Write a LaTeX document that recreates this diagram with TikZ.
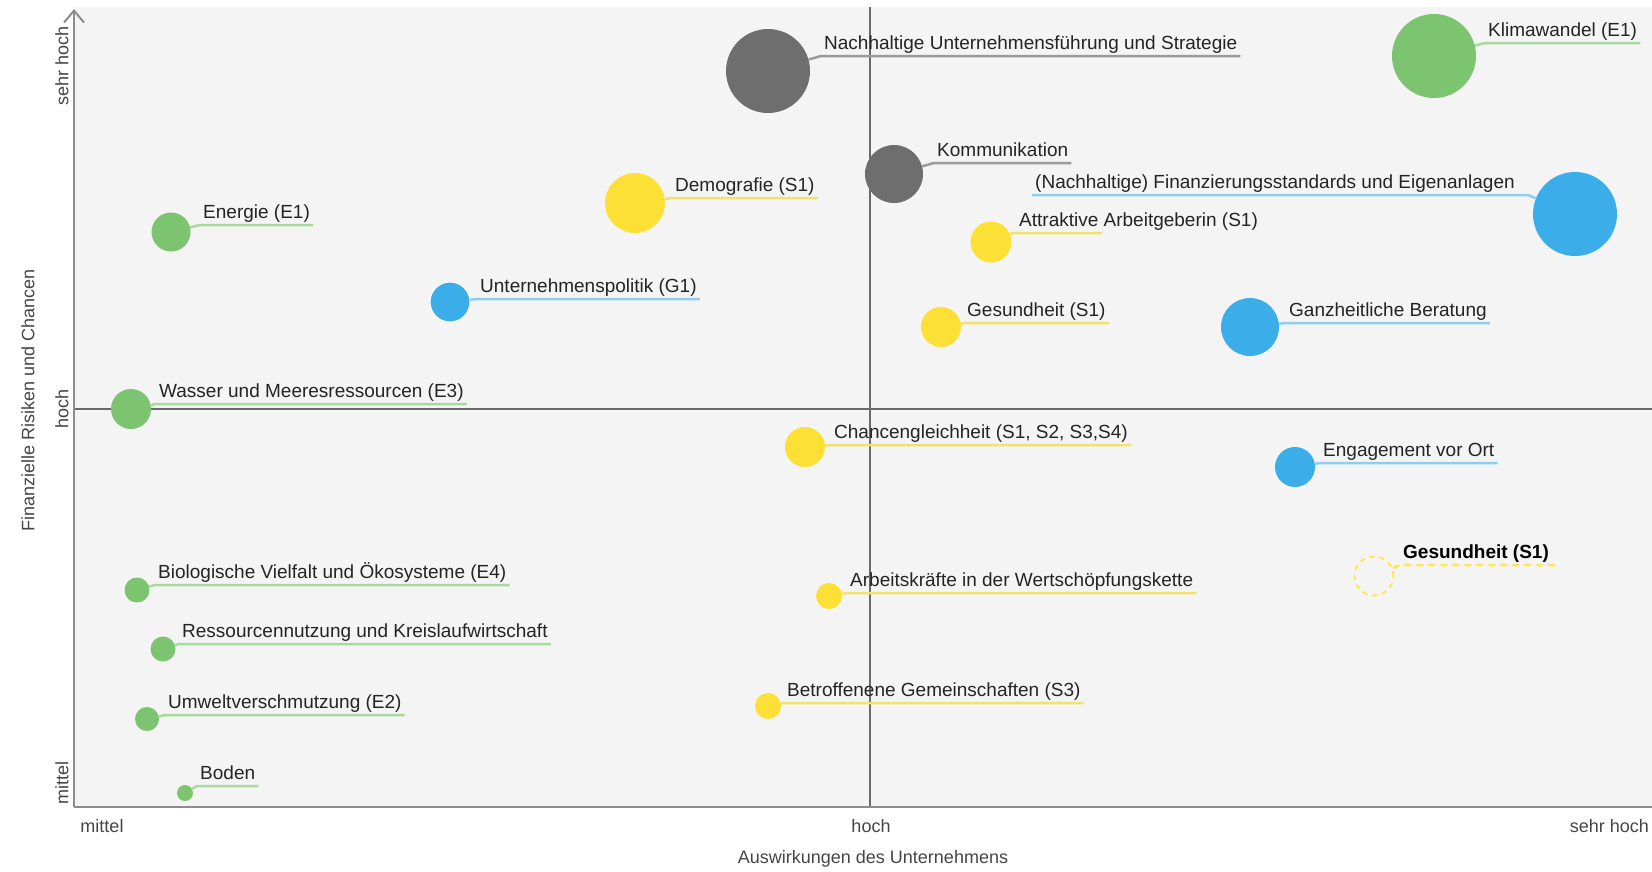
\documentclass[tikz,border=0pt]{standalone}
\usepackage{fontspec}
\setmainfont{Liberation Sans}
\usetikzlibrary{arrows.meta}
\definecolor{bggray}{HTML}{F4F4F4}
\definecolor{axisgray}{HTML}{8C8C8C}
\definecolor{midgray}{HTML}{6A6A6A}
\definecolor{txtgray}{HTML}{242424}
\definecolor{lblgray}{HTML}{454545}
\definecolor{egreen}{HTML}{7DC470}
\definecolor{sgelb}{HTML}{FDE035}
\definecolor{gblau}{HTML}{3BAEE9}
\definecolor{dgrau}{HTML}{6E6E6E}
\definecolor{egreenL}{HTML}{A9D99F}
\definecolor{sgelbL}{HTML}{F3E26A}
\definecolor{gblauL}{HTML}{8ECDF0}
\definecolor{dgrauL}{HTML}{9A9A9A}

\begin{document}
\begin{tikzpicture}[x=1pt, y=-1pt,
    bubble/.style={circle, inner sep=0pt, minimum size=#1},
    lab/.style={anchor=south west, inner xsep=3pt, inner ysep=0pt, text depth=6pt, text=txtgray, font=\fontsize{19}{22}\selectfont},
    axlab/.style={text=lblgray, inner sep=0pt, font=\fontsize{18}{21}\selectfont},
    gline/.style={draw=egreenL, line width=2.5pt},
    yline/.style={draw=sgelbL, line width=2.5pt},
    bline/.style={draw=gblauL, line width=2.5pt},
    dline/.style={draw=dgrauL, line width=2.5pt},
    ydash/.style={draw=sgelb!85!white, line width=2.5pt, dash pattern=on 7pt off 5pt}]
    \useasboundingbox (0,0) rectangle (1652,871);
    \fill[bggray] (74,7) rectangle (1652,807);
    \draw[midgray, line width=1.5pt] (870,7) -- (870,807);
    \draw[midgray, line width=1.8pt] (74,409) -- (1652,409);
    \draw[axisgray, line width=2pt, -{Straight Barb[length=12pt,width=20pt]}] (74,807) -- (74,9);
    \draw[axisgray, line width=2pt] (74,807) -- (1652,807);

    \node[axlab, rotate=90] (ysh) at (62,66) {sehr hoch};
    \node[axlab, rotate=90] (yh) at (62,409) {hoch};
    \node[axlab, rotate=90] (ym) at (62,783) {mittel};
    \node[axlab, rotate=90] (ytitle) at (28,400) {Finanzielle Risiken und Chancen};
    \node[axlab] (xm) at (102,826) {mittel};
    \node[axlab] (xh) at (871,826) {hoch};
    \node[axlab, anchor=east] (xsh) at (1649,826) {sehr hoch};
    \node[axlab] (xtitle) at (873,859) {Auswirkungen des Unternehmens};

    \node[bubble=84pt, fill=dgrau] (nus) at (768,71) {};
    \node[lab] (nusL) at (821,56) {Nachhaltige Unternehmensführung und Strategie};
    \draw[dline] (nus) -- (nusL.south west) -- (nusL.south east);

    \node[bubble=84pt, fill=egreen] (klima) at (1434,56) {};
    \node[lab] (klimaL) at (1485,43) {Klimawandel (E1)};
    \draw[gline] (klima) -- (klimaL.south west) -- (klimaL.south east);

    \node[bubble=58pt, fill=dgrau] (komm) at (894,174) {};
    \node[lab] (kommL) at (934,163) {Kommunikation};
    \draw[dline] (komm) -- (kommL.south west) -- (kommL.south east);

    \node[bubble=60pt, fill=sgelb] (demo) at (635,203) {};
    \node[lab] (demoL) at (672,198) {Demografie (S1)};
    \draw[yline] (demo) -- (demoL.south west) -- (demoL.south east);

    \node[bubble=84pt, fill=gblau] (fin) at (1575,214) {};
    \node[lab] (finL) at (1032,195) {(Nachhaltige) Finanzierungsstandards und Eigenanlagen};
    \coordinate (finE) at (1528,195);
    \draw[bline] (finL.south west) -- (finE) -- (fin);

    \node[bubble=39pt, fill=egreen] (energie) at (171,232) {};
    \node[lab] (energieL) at (200,225) {Energie (E1)};
    \draw[gline] (energie) -- (energieL.south west) -- (energieL.south east);

    \node[bubble=41pt, fill=sgelb] (attr) at (991,242) {};
    \node[lab, inner xsep=6pt] (attrL) at (1013,233) {Attraktive Arbeitgeberin (S1)};
    \coordinate (attrE) at (1102,233);
    \draw[yline] (attr) -- (attrL.south west) -- (attrE);

    \node[bubble=40pt, fill=gblau, draw=white, line width=1pt] (upol) at (450,302) {};
    \node[lab] (upolL) at (477,299) {Unternehmenspolitik (G1)};
    \draw[bline] (upol) -- (upolL.south west) -- (upolL.south east);

    \node[bubble=40pt, fill=sgelb] (gesu) at (941,327) {};
    \node[lab] (gesuL) at (964,323) {Gesundheit (S1)};
    \draw[yline] (gesu) -- (gesuL.south west) -- (gesuL.south east);

    \node[bubble=58pt, fill=gblau] (ganz) at (1250,327) {};
    \node[lab] (ganzL) at (1286,323) {Ganzheitliche Beratung};
    \draw[bline] (ganz) -- (ganzL.south west) -- (ganzL.south east);

    \node[bubble=40pt, fill=egreen] (wasser) at (131,409) {};
    \node[lab] (wasserL) at (156,404) {Wasser und Meeresressourcen (E3)};
    \draw[gline] (wasser) -- (wasserL.south west) -- (wasserL.south east);

    \node[bubble=40pt, fill=sgelb] (chance) at (805,447) {};
    \node[lab] (chanceL) at (831,445) {Chancengleichheit (S1, S2, S3,S4)};
    \draw[yline] (chance) -- (chanceL.south west) -- (chanceL.south east);

    \node[bubble=40pt, fill=gblau] (engag) at (1295,467) {};
    \node[lab] (engagL) at (1320,463) {Engagement vor Ort};
    \draw[bline] (engag) -- (engagL.south west) -- (engagL.south east);

    \node[bubble=39pt, ydash, line width=2pt, dash pattern=on 5pt off 5pt] (gesuB) at (1374,576) {};
    \node[lab, text=black, font=\fontsize{19}{22}\selectfont\bfseries] (gesuBL) at (1400,565) {Gesundheit (S1)};
    \draw[ydash] (gesuB) -- (gesuBL.south west) -- ([xshift=4pt]gesuBL.south east);

    \node[bubble=25pt, fill=egreen] (bio) at (137,590) {};
    \node[lab] (bioL) at (155,585) {Biologische Vielfalt und Ökosysteme (E4)};
    \draw[gline] (bio) -- (bioL.south west) -- (bioL.south east);

    \node[bubble=26pt, fill=sgelb] (arbk) at (829,596) {};
    \node[lab] (arbkL) at (847,593) {Arbeitskräfte in der Wertschöpfungskette};
    \draw[yline] (arbk) -- (arbkL.south west) -- (arbkL.south east);

    \node[bubble=25pt, fill=egreen] (ress) at (163,649) {};
    \node[lab] (ressL) at (179,644) {Ressourcennutzung und Kreislaufwirtschaft};
    \draw[gline] (ress) -- (ressL.south west) -- (ressL.south east);

    \node[bubble=26pt, fill=sgelb] (betr) at (768,706) {};
    \node[lab] (betrL) at (784,703) {Betroffenene Gemeinschaften (S3)};
    \draw[yline] (betr) -- (betrL.south west) -- (betrL.south east);

    \node[bubble=24pt, fill=egreen] (umwelt) at (147,719) {};
    \node[lab] (umweltL) at (165,715) {Umweltverschmutzung (E2)};
    \draw[gline] (umwelt) -- (umweltL.south west) -- (umweltL.south east);

    \node[bubble=16pt, fill=egreen] (boden) at (185,793) {};
    \node[lab] (bodenL) at (197,786) {Boden};
    \draw[gline] (boden) -- (bodenL.south west) -- (bodenL.south east);
\end{tikzpicture}
\end{document}
